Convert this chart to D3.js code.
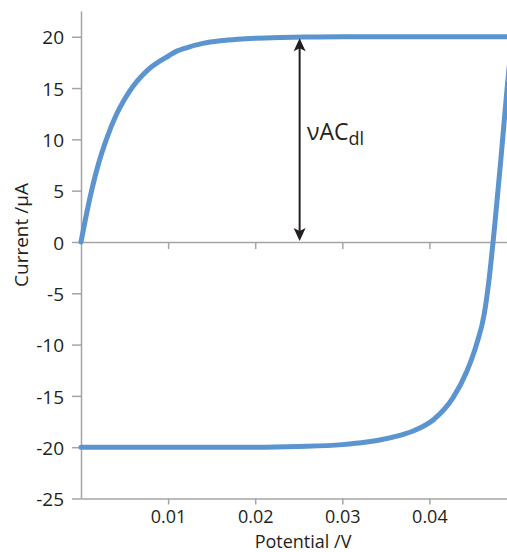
<!DOCTYPE html>
<html>
<head>
<meta charset="utf-8">
<script src="https://cdn.jsdelivr.net/npm/d3@7"></script>
<style>
  html, body { margin: 0; padding: 0; background: #fff; }
  svg { display: block; }
  text { font-family: "Open Sans", "Noto Sans", sans-serif; fill: #231f20; }
</style>
</head>
<body>
<svg id="chart" width="507" height="552"></svg>
<script>
// Cyclic voltammogram of a double-layer capacitor (current in µA vs potential in V)

// Forward (anodic) sweep
const forwardPotential = [0, 0.001, 0.002, 0.003, 0.004, 0.005, 0.006, 0.007, 0.008, 0.009, 0.010, 0.011, 0.012, 0.014, 0.016, 0.018, 0.020, 0.023, 0.026, 0.030, 0.040, 0.0495];
const forwardCurrent   = [0, 4.2, 7.6, 10.2, 12.3, 13.9, 15.2, 16.2, 17.0, 17.6, 18.1, 18.6, 18.9, 19.35, 19.6, 19.75, 19.85, 19.93, 19.97, 20, 20, 20];

// Reverse (cathodic) sweep, listed by increasing potential
const reversePotential = [0, 0.020, 0.025, 0.030, 0.0328, 0.0343, 0.0366, 0.0382, 0.0405, 0.0427, 0.0443, 0.0454, 0.0463, 0.0468, 0.04745, 0.0482, 0.0489, 0.0495];
const reverseCurrent   = [-20, -20, -19.93, -19.75, -19.5, -19.3, -18.85, -18.4, -17.3, -15.2, -12.6, -10.0, -7.0, -4.0, 1.2, 8.0, 14.8, 20];

// Axis ticks
const xTicks = [0.01, 0.02, 0.03, 0.04];
const yTicks = [-25, -20, -15, -10, -5, 0, 5, 10, 15, 20];

// Double-layer charging current annotation
const arrowPotential = 0.0251;
const arrowFrom = 0;
const arrowTo = 20;

const svg = d3.select("#chart");

const x = d3.scaleLinear().domain([0, 0.05]).range([81, 516.5]);
const y = d3.scaleLinear().domain([-25, 22.5]).range([498.5, 11.1]);

const axisColor = "#a5a5a5";

// Y axis
const yAxis = svg.append("g")
  .attr("transform", `translate(${x(0)},0)`)
  .call(d3.axisLeft(y).tickValues(yTicks).tickFormat(d => String(d)).tickSize(9).tickSizeOuter(0));
yAxis.select(".domain").attr("stroke", axisColor).attr("stroke-width", 1.5);
yAxis.selectAll(".tick line").attr("stroke", axisColor).attr("stroke-width", 1.5);
yAxis.selectAll(".tick text")
  .attr("x", -17).attr("dy", "0.38em")
  .style("font-size", "19px").style("font-family", "'Open Sans', sans-serif").attr("fill", "#231f20");

// Bottom axis with labels
const xAxis = svg.append("g")
  .attr("transform", `translate(0,${y(-25)})`)
  .call(d3.axisBottom(x).tickValues(xTicks).tickFormat(d3.format(".2f")).tickSize(6).tickSizeOuter(0));
xAxis.select(".domain").attr("stroke", axisColor).attr("stroke-width", 1.5);
xAxis.selectAll(".tick line").attr("stroke", axisColor).attr("stroke-width", 1.5);
xAxis.selectAll(".tick text")
  .attr("y", 11.5).attr("dy", "0.71em")
  .style("font-size", "18px").style("font-family", "'Open Sans', sans-serif").attr("fill", "#231f20");

// Zero-current line with tick marks
const zeroAxis = svg.append("g")
  .attr("transform", `translate(0,${y(0)})`)
  .call(d3.axisBottom(x).tickValues(xTicks).tickFormat("").tickSize(7).tickSizeOuter(0));
zeroAxis.select(".domain").attr("stroke", axisColor).attr("stroke-width", 1.5);
zeroAxis.selectAll(".tick line").attr("stroke", axisColor).attr("stroke-width", 1.5);

// Axis titles
svg.append("text")
  .attr("x", 303).attr("y", 547.5)
  .attr("text-anchor", "middle")
  .style("font-size", "18px")
  .text("Potential /V");

svg.append("text")
  .attr("transform", "translate(28,235) rotate(-90)")
  .attr("text-anchor", "middle")
  .style("font-size", "19px")
  .text("Current /µA");

// Voltammogram curve
const line = d3.line()
  .x(d => x(d[0]))
  .y(d => y(d[1]))
  .curve(d3.curveMonotoneX);

const forward = forwardPotential.map((p, i) => [p, forwardCurrent[i]]);
const reverse = reversePotential.map((p, i) => [p, reverseCurrent[i]]);

const curveColor = "#5b94cf";
[forward, reverse].forEach(branch => {
  svg.append("path")
    .datum(branch)
    .attr("d", line)
    .attr("fill", "none")
    .attr("stroke", curveColor)
    .attr("stroke-width", 5)
    .attr("stroke-linecap", "round")
    .attr("stroke-linejoin", "round");
});

// Double-headed arrow spanning the charging current
const ax = x(arrowPotential);
const yTop = y(arrowTo) + 1.5;
const yBot = y(arrowFrom) - 1;
const arrowColor = "#231f20";
svg.append("line")
  .attr("x1", ax).attr("x2", ax)
  .attr("y1", yTop + 6).attr("y2", yBot - 6)
  .attr("stroke", arrowColor).attr("stroke-width", 2);
const head = "M0,0 L-6,13 L0,10 L6,13 Z";
svg.append("path")
  .attr("d", head)
  .attr("transform", `translate(${ax},${yTop})`)
  .attr("fill", arrowColor);
svg.append("path")
  .attr("d", head)
  .attr("transform", `translate(${ax},${yBot}) rotate(180)`)
  .attr("fill", arrowColor);

// Annotation label
const label = svg.append("text")
  .attr("x", 307).attr("y", 139.5)
  .style("font-size", "23px");
label.append("tspan").text("νAC");
label.append("tspan").attr("dy", 5).style("font-size", "18px").text("dl");
</script>
</body>
</html>
